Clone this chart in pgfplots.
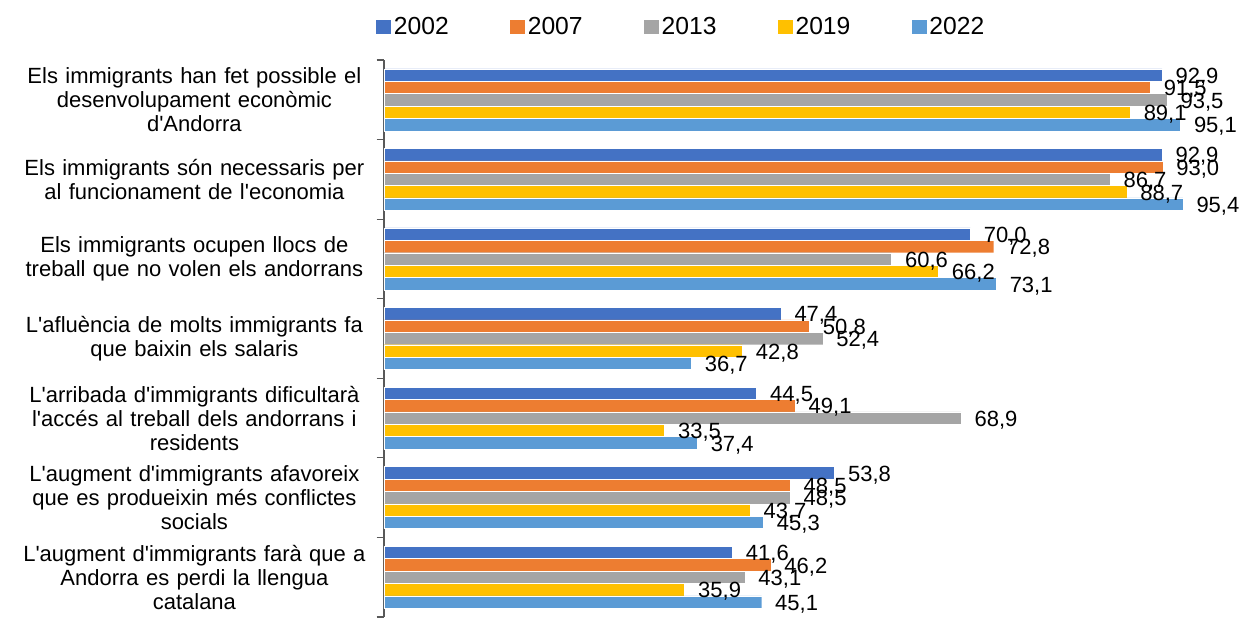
\documentclass[border=0pt]{standalone}
\usepackage{fontspec}
\setmainfont{Liberation Sans}[Ligatures=TeXOff]
\usepackage{pgfplots}
\usepackage{pgfplotstable}
\pgfplotsset{compat=1.18}
\definecolor{c02}{HTML}{4472C4}
\definecolor{c07}{HTML}{ED7D31}
\definecolor{c13}{HTML}{A5A5A5}
\definecolor{c19}{HTML}{FFC000}
\definecolor{c22}{HTML}{5B9BD5}
\definecolor{axgray}{HTML}{595959}
\pgfplotstableread{
y a b c d e
0 92.9 91.5 93.5 89.1 95.1
1 92.9 93.0 86.7 88.7 95.4
2 70.0 72.8 60.6 66.2 73.1
3 47.4 50.8 52.4 42.8 36.7
4 44.5 49.1 68.9 33.5 37.4
5 53.8 48.5 48.5 43.7 45.3
6 41.6 46.2 43.1 35.9 45.1
}\datatable
\pgfplotsset{legimg/.style={legend image code/.code={\fill[##1,draw=none] (0pt,-5.25pt) rectangle (11.25pt,5.25pt);}}}
\begin{document}
\begin{tikzpicture}
\begin{axis}[
  at={(0,0)}, anchor=south west,
  scale only axis, width=628.125pt, height=417.75pt,
  xbar=0pt, bar width=9.3pt,
  xmin=0, xmax=100, ymin=-0.5, ymax=6.5,
  y dir=reverse,
  axis x line=none,
  axis y line*=left,
  axis line style={axgray, line width=0.8pt},
  xtick=\empty,
  ytick={0,...,6},
  major tick length=0pt,
  minor ytick={-0.5,0.5,...,6.5},
  minor tick length=5.5pt,
  tick align=outside,
  minor tick style={axgray, line width=0.8pt},
  yticklabels={
    {Els immigrants han fet possible el\\desenvolupament econòmic\\d'Andorra},
    {Els immigrants són necessaris per\\al funcionament de l'economia},
    {Els immigrants ocupen llocs de\\treball que no volen els andorrans},
    {L'afluència de molts immigrants fa\\que baixin els salaris},
    {L'arribada d'immigrants dificultarà\\l'accés al treball dels andorrans i\\residents},
    {L'augment d'immigrants afavoreix\\que es produeixin més conflictes\\socials},
    {L'augment d'immigrants farà que a\\Andorra es perdi la llengua\\catalana}},
  yticklabel style={anchor=east, align=center, text width=270pt, inner sep=0pt, xshift=-7pt, font=\fontsize{16.5}{18}\selectfont},
  clip=false,
  /pgf/number format/assume math mode=true,
  nodes near coords={\pgfmathprintnumber[fixed,fixed zerofill,precision=1,use comma]{\pgfplotspointmeta}},
  point meta=x,
  every node near coord/.append style={anchor=west, inner sep=0pt, xshift=10pt, yshift=-1.5pt, font=\fontsize{16.5}{18}\selectfont, black},
  legend columns=5,
  legend style={at={(axis description cs:0,1)}, anchor=west, xshift=-6pt, yshift=25pt, draw=none, inner sep=0pt, font=\fontsize{18.5}{20}\selectfont,
    /tikz/every even column/.append style={column sep=44pt},
    /tikz/every odd column/.append style={column sep=0pt}},
]
\addplot[fill=c02, draw=white, line width=0.3pt, legimg, bar shift=18.6pt] table[x=a, y=y] {\datatable};
\addplot[fill=c07, draw=white, line width=0.3pt, legimg, bar shift=9.3pt] table[x=b, y=y] {\datatable};
\addplot[fill=c13, draw=white, line width=0.3pt, legimg, bar shift=0pt] table[x=c, y=y] {\datatable};
\addplot[fill=c19, draw=white, line width=0.3pt, legimg, bar shift=-9.3pt] table[x=d, y=y] {\datatable};
\addplot[fill=c22, draw=white, line width=0.3pt, legimg, bar shift=-18.6pt] table[x=e, y=y] {\datatable};
\legend{2002,2007,2013,2019,2022}
\end{axis}
\pgfresetboundingbox
\useasboundingbox (-288pt,-0.75pt) rectangle (645.75pt,462.75pt);
\end{tikzpicture}
\end{document}
